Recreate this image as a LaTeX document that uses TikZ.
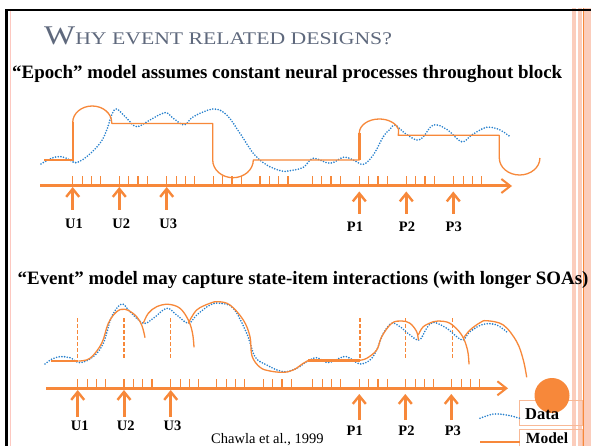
\documentclass[tikz,border=0pt]{standalone}
\usepackage{fontspec}
\usepackage{graphicx}
\setmainfont{Liberation Serif}
\usetikzlibrary{arrows.meta}
\definecolor{org}{RGB}{247,136,58}
\definecolor{lorg}{RGB}{248,185,150}
\definecolor{dblue}{RGB}{38,128,205}
\definecolor{ttl}{RGB}{95,105,125}
\definecolor{pinkst}{RGB}{251,205,188}
\begin{document}
\begin{tikzpicture}[x=1pt,y=-1pt,
  model/.style={draw=org, line width=1.3pt, line join=round},
  thickmodel/.style={draw=org, line width=2.4pt},
  datac/.style={draw=dblue, line width=1.8pt, dash pattern=on 0pt off 2.7pt, line cap=round},
  axisline/.style={draw=org, line width=3pt, -{Straight Barb[length=9pt, width=14pt, line width=2pt]}},
  tickmark/.style={draw=org, line width=1.1pt},
  evarrow/.style={draw=org, line width=3pt, -{Straight Barb[length=8pt, width=13pt, line width=2.4pt]}},
  dashline/.style={draw=org, line width=1.2pt, dash pattern=on 4pt off 2pt},
  lab/.style={font=\bfseries\fontsize{14.5}{16}\selectfont, inner sep=0pt},
  subt/.style={font=\bfseries\fontsize{18.9}{21}\selectfont, inner sep=0pt, anchor=base west},
  legtext/.style={font=\bfseries\fontsize{16.5}{18}\selectfont, inner sep=0pt, anchor=base west},
  legbox/.style={draw=lorg, line width=0.9pt}
]
\useasboundingbox (0,0) rectangle (591,446);
\fill[white] (0,0) rectangle (591,446);

% frame
\fill[pinkst] (572,8) rectangle (575.5,446);
\fill[pinkst] (578,8) rectangle (582,446);
\fill[pinkst] (584,8) rectangle (591,446);
\draw[org, line width=1pt] (583,8) -- (583,446);
\draw[black, line width=2.2pt] (6.5,10) -- (6.5,446);
\draw[black, line width=2.2pt] (5.4,10) -- (591,10);
\draw[pinkst!80!red!60, line width=1.6pt] (10.5,11) -- (10.5,446);

% title
\node[anchor=base west, inner sep=0pt, text=ttl] (title) at (44,45)
  {\scalebox{1.22}[1]{{\fontsize{27}{30}\selectfont W}{\fontsize{17.8}{20}\selectfont HY EVENT RELATED DESIGNS?}}};

\node[subt] (sub1) at (12,78.5) {“Epoch” model assumes constant neural processes throughout block};
\node[subt] (sub2) at (17.5,284) {“Event” model may capture state-item interactions (with longer SOAs)};

% ---------- top diagram ----------
\coordinate (ta0) at (40,186);
\coordinate (ta1) at (512,186);
\draw[axisline] (ta0) -- (ta1);
\foreach \g in {72.7,119.3,166.7,213.3,260,312.3,359.3,406.3,453.7}{
  \foreach \o in {0,9.4,18.7,28}{
    \draw[tickmark] (\g+\o,176.5) -- (\g+\o,186);
  }
}
\foreach \x/\n in {72.7/1,119.3/2,166.7/3}{
  \coordinate (tub\n) at (\x,210);
  \coordinate (tut\n) at (\x,187);
  \draw[evarrow] (tub\n) -- (tut\n);
}
\foreach \x/\n in {359.3/1,406.3/2,453.3/3}{
  \coordinate (tpb\n) at (\x,214);
  \coordinate (tpt\n) at (\x,191.5);
  \draw[evarrow] (tpb\n) -- (tpt\n);
}
\node[lab] (tU1) at (74,223.5) {U1};
\node[lab] (tU2) at (121.3,223.5) {U2};
\node[lab] (tU3) at (168.3,223.5) {U3};
\node[lab] (tP1) at (355,227) {P1};
\node[lab] (tP2) at (407,227) {P2};
\node[lab] (tP3) at (453.7,227) {P3};

% top data
\draw[datac] plot[smooth, tension=0.6] coordinates {
(41,164) (48,160) (56.7,156.7) (65,157.5) (70,160) (76,162.7) (86.7,156.7) (100,143.3) (106.7,130) (111.7,115) (116.7,109) (126.7,118.3) (136.7,126.7) (150,120) (165,112.7) (173.3,118.3) (184.3,125) (193.3,116.7) (213.3,109) (226.7,115) (240,133.3) (253.3,153.3) (266.7,165) (281.7,171) (290,170.7) (303.3,167.3) (313.3,158.3) (330,163.3) (343.3,157.3) (353.3,160) (363.3,164.3) (373.3,155) (383.3,136.7) (390,129.3) (395,125) (405,133.3) (416.7,140) (423.3,136.7) (433.3,125) (446.7,129.3) (461.7,141.7) (471.7,135) (486.7,127.3) (500,130) (510,136.7)};

% top model
\draw[model] (44,160) -- (72.7,160) -- (72.7,122.5)
  arc[start angle=180, end angle=0, x radius=19.5pt, y radius=16.5pt]
  -- (112,123.5) -- (212.7,123.5) -- (212.7,160)
  arc[start angle=180, end angle=360, x radius=20.3pt, y radius=17.7pt]
  -- (359.3,160) -- (359.3,133)
  arc[start angle=180, end angle=15, x radius=20pt, y radius=14pt]
  -- (398.3,135.3) -- (499.3,135.3) -- (499.3,158)
  arc[start angle=180, end angle=360, x radius=20.3pt, y radius=17pt];
\draw[thickmodel] (44,160) -- (72.7,160) -- (72.7,122.5);
\draw[thickmodel] (359.3,160) -- (359.3,133);

% ---------- bottom diagram ----------
\coordinate (ba0) at (46,388.3);
\coordinate (ba1) at (508,388.3);
\draw[axisline] (ba0) -- (ba1);
\foreach \g in {77.7,124,170.7,216.7,263.3,312.7,359.3,405.7,451.7}{
  \foreach \o in {0,9.4,18.7,28}{
    \draw[tickmark] (\g+\o,379) -- (\g+\o,388.3);
  }
}
\foreach \x/\n in {77.7/1,124/2,170.7/3}{
  \coordinate (bub\n) at (\x,416.7);
  \coordinate (but\n) at (\x,390);
  \draw[evarrow] (bub\n) -- (but\n);
}
\foreach \x/\n in {359.3/1,405.3/2,451.3/3}{
  \coordinate (bpb\n) at (\x,420);
  \coordinate (bpt\n) at (\x,394);
  \draw[evarrow] (bpb\n) -- (bpt\n);
}
\node[lab] (bU1) at (79.8,426) {U1};
\node[lab] (bU2) at (125.8,426) {U2};
\node[lab] (bU3) at (172.5,426) {U3};
\node[lab] (bP1) at (354.7,431) {P1};
\node[lab] (bP2) at (406.5,431) {P2};
\node[lab] (bP3) at (452.8,431) {P3};

\node[anchor=base west, inner sep=0pt, font=\fontsize{14.5}{16}\selectfont] (cite) at (211,443.3) {Chawla et al., 1999};

% dashed onsets
\foreach \x/\n in {77.7/1,124/2,170.7/3,360/4,405.3/5,452.7/6}{
  \coordinate (dt\n) at (\x,318.3);
  \coordinate (db\n) at (\x,360);
  \draw[dashline] (dt\n) -- (db\n);
}

% bottom data
\draw[datac] plot[smooth, tension=0.6] coordinates {
(45,364) (52,359) (60,356.7) (70,357.7) (80,362.7) (93.3,356.7) (103.3,343.3) (111.7,316.7) (121.7,304) (130,311.7) (143.3,323.3) (153.3,318.3) (166.7,308.3) (176.7,315) (188.3,323.3) (196.7,315) (210,305) (220,303.3) (233.3,308.3) (246.7,333.3) (255,356.7) (266.7,365) (283.3,371.7) (296.7,368.3) (306.7,361.7) (316.7,357.7) (328.3,362.7) (343.3,356.7) (350,358.3) (360,364) (370,360) (376.7,350) (383.3,333.3) (391.7,323.3) (400,326.7) (410,335) (419.3,340) (426.7,328.3) (433.3,322.3) (446.7,328.3) (456.7,336.7) (463.3,340) (470,331.7) (483.3,324.3) (496.7,325) (508.3,333.3)};

% bottom model
\draw[thickmodel] (50.7,361) -- (78.3,361);
\draw[model] plot[smooth, tension=0.6] coordinates {(78.3,361) (90,358.3) (101.7,343.3) (108.3,323.3) (116.7,311.7) (125,309.3) (135,315) (141.7,325) (145,337.7)};
\draw[model] plot[smooth, tension=0.6] coordinates {(143.3,323.3) (148.3,313.3) (156.7,306.7) (168.3,304.3) (180,308.3) (188.3,320) (192.5,333) (194,347.3)};
\draw[model] plot[smooth, tension=0.6] coordinates {(188.3,323.3) (196.7,310) (210,303.3) (218.3,301.7) (230,305) (243.3,320) (250,336.7) (252,356) (260,367.3) (270,371) (283.3,372.3) (293.3,370) (303.3,363.3) (308.3,360.5)};
\draw[thickmodel] (308.3,360.3) -- (360,360.3);
\draw[model] plot[smooth, tension=0.6] coordinates {(359.3,360.3) (366.7,358.3) (376.7,350) (381.7,336.7) (391.7,323.3) (401.7,321) (410,323.3) (416.7,331.7) (418.3,340)};
\draw[model] plot[smooth, tension=0.6] coordinates {(418.3,335) (423.3,326.7) (433.3,321.7) (438.3,321) (450,323.3) (461.7,335) (467.5,350) (469,364.3)};
\draw[model] plot[smooth, tension=0.6] coordinates {(463.3,338.3) (470,330) (480,322.7) (486.7,320.7) (503.3,325) (516.7,341.7) (523.3,360) (526.7,377.3)};

% legend
\draw[legbox] (519.3,400.7) rectangle (582,425);
\draw[legbox] (519.3,429.3) rectangle (582,452);
\fill[org] (552,395.5) circle[radius=17.5pt];
\node[legtext] (ldata) at (525,419) {Data};
\node[legtext, font=\bfseries\fontsize{15.5}{17}\selectfont] (lmodel) at (525.7,443.5) {Model};
\coordinate (ld0) at (480,418.3);
\coordinate (ld1) at (520,418.3);
\draw[datac] plot[smooth] coordinates {(ld0) (493.3,414) (506.7,415) (ld1)};
\coordinate (lm0) at (480,441.7);
\coordinate (lm1) at (520,441.7);
\draw[org, line width=1.6pt] (lm0) -- (lm1);
\end{tikzpicture}
\end{document}
